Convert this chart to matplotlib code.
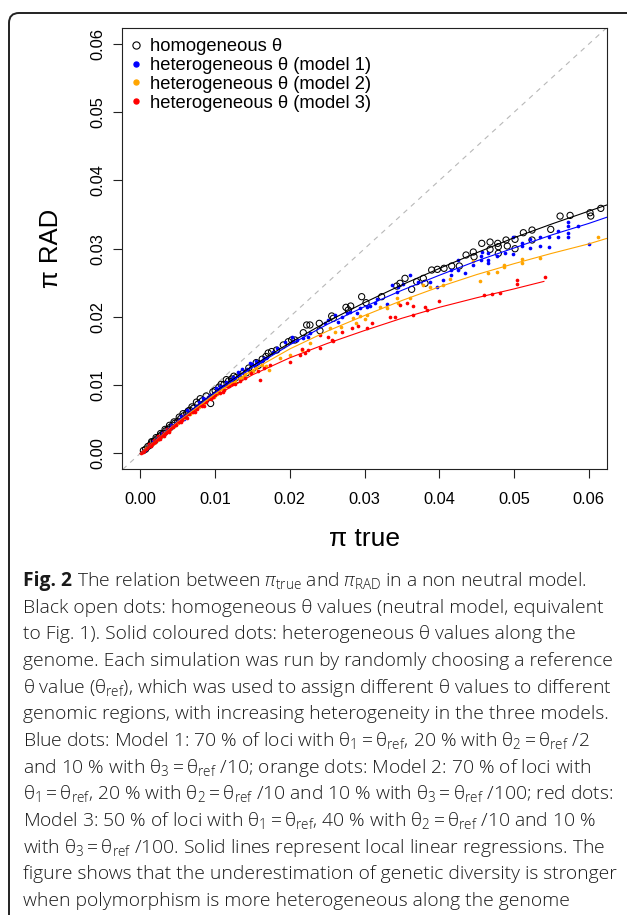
import numpy as np
import matplotlib
matplotlib.use("Agg")
import matplotlib.pyplot as plt
from matplotlib.patches import FancyBboxPatch
from matplotlib.lines import Line2D

plt.rcParams['font.family'] = ['Liberation Sans', 'DejaVu Sans']
plt.rcParams['mathtext.fontset'] = 'custom'
plt.rcParams['mathtext.rm'] = 'Open Sans:light'
plt.rcParams['mathtext.it'] = 'Open Sans:italic:light'
plt.rcParams['mathtext.bf'] = 'Open Sans:bold'

# ---------------- data ----------------
# homogeneous theta (black open circles)
homo_x = [0.0004, 0.0007, 0.0010, 0.0013, 0.0016, 0.0019, 0.0022, 0.0025, 0.0028, 0.0031,
          0.0034, 0.0037, 0.0040, 0.0043, 0.0046, 0.0050, 0.0054, 0.0058, 0.0062, 0.0066,
          0.0071, 0.0077, 0.0083, 0.0094, 0.0100, 0.0105, 0.0112, 0.0118, 0.0122, 0.0128,
          0.0131, 0.0135, 0.0142, 0.0150, 0.0158, 0.0163, 0.0168, 0.0171,
          0.0015, 0.0021, 0.0027, 0.0033, 0.0039, 0.0045, 0.0052, 0.0057, 0.0064, 0.0069,
          0.0075, 0.0080, 0.0088, 0.0097, 0.0108, 0.0115, 0.0125, 0.0137, 0.0145, 0.0155,
          0.01756, 0.01823, 0.01912, 0.01979, 0.02024, 0.02068, 0.0218, 0.02225, 0.02269,
          0.02394, 0.02403, 0.0256, 0.02581, 0.02751, 0.02782, 0.02814, 0.02961, 0.03019,
          0.03229, 0.0343, 0.03474, 0.03541, 0.0363, 0.03697, 0.03786, 0.03809,
          0.03898, 0.03974, 0.04063, 0.04166, 0.04268, 0.04358, 0.04455, 0.04465, 0.04568,
          0.04679, 0.04679, 0.04782, 0.0479, 0.0479, 0.04893, 0.0491, 0.05013, 0.05013,
          0.05125, 0.05241, 0.05241, 0.05491, 0.05616, 0.0575, 0.06017, 0.06027, 0.06161]
homo_y = [0.0004, 0.0006, 0.0010, 0.0012, 0.0016, 0.0018, 0.0021, 0.0024, 0.0027, 0.0029,
          0.0033, 0.0035, 0.0038, 0.0041, 0.0044, 0.0047, 0.0051, 0.0055, 0.0059, 0.0063,
          0.0066, 0.0072, 0.0077, 0.0073, 0.0092, 0.0097, 0.0101, 0.0106, 0.0109, 0.0111,
          0.0108, 0.0113, 0.0118, 0.0124, 0.0129, 0.0138, 0.0142, 0.0147,
          0.0017, 0.0023, 0.0029, 0.0035, 0.0041, 0.0046, 0.0053, 0.0058, 0.0062, 0.0068,
          0.0075, 0.0080, 0.0084, 0.0090, 0.0101, 0.0108, 0.0113, 0.0117, 0.0125, 0.0133,
          0.01491, 0.01514, 0.01588, 0.01636, 0.01661, 0.01661, 0.01768, 0.01881, 0.01881,
          0.01905, 0.01797, 0.02013, 0.01979, 0.0214, 0.02101, 0.02159, 0.02296, 0.02208,
          0.02296, 0.02452, 0.02492, 0.02565, 0.02404, 0.02516, 0.02565, 0.02492,
          0.02687, 0.02697, 0.02712, 0.02746, 0.02746, 0.02907, 0.02951, 0.02882, 0.03078,
          0.03097, 0.0299, 0.03078, 0.03029, 0.02932, 0.03127, 0.03039, 0.03137, 0.02999,
          0.03234, 0.03273, 0.03127, 0.03283, 0.03478, 0.03488, 0.03527, 0.03478, 0.03591]

# heterogeneous theta, model 1 (blue)
m1_x = [0.0003, 0.0006, 0.0009, 0.0012, 0.0015, 0.0018, 0.0021, 0.0024, 0.0027, 0.0030,
        0.0033, 0.0036, 0.0039, 0.0042, 0.0045, 0.0048, 0.0052, 0.0056, 0.0060, 0.0065,
        0.0070, 0.0075, 0.0081, 0.0087, 0.0093, 0.0098, 0.0104, 0.0110, 0.0116, 0.0121,
        0.0127, 0.0132, 0.0138, 0.0143, 0.0147, 0.0153, 0.0158, 0.0163, 0.0168,
        0.0017, 0.0023, 0.0029, 0.0035, 0.0041, 0.0047, 0.0054, 0.0058, 0.0063, 0.0068,
        0.0078, 0.0084, 0.0090, 0.0101, 0.0107, 0.0114, 0.0124, 0.0130, 0.0136, 0.0150,
        0.0155, 0.0165,
        0.0177, 0.01823, 0.01934, 0.02024, 0.02037, 0.02091, 0.0218, 0.02246, 0.02269,
        0.0247, 0.02514, 0.02604, 0.02648, 0.02693, 0.0276, 0.02805, 0.02894, 0.02938,
        0.03028, 0.03072, 0.03139, 0.03162, 0.03296, 0.03363, 0.0343, 0.03451, 0.03518,
        0.03608, 0.03719,
        0.03876, 0.03965, 0.04054, 0.04153, 0.04153, 0.04255, 0.04255, 0.04344, 0.04447,
        0.04554, 0.04554, 0.04568, 0.04656, 0.04656, 0.04656, 0.04768, 0.0488, 0.0499,
        0.0499, 0.05103, 0.05103, 0.05214, 0.05214, 0.05348, 0.05348, 0.05473, 0.05473,
        0.05593, 0.05593, 0.05727, 0.05727, 0.05727, 0.05727, 0.05861, 0.06]
m1_y = [0.0003, 0.0005, 0.0008, 0.0011, 0.0014, 0.0016, 0.0020, 0.0022, 0.0025, 0.0028,
        0.0030, 0.0034, 0.0036, 0.0039, 0.0042, 0.0045, 0.0049, 0.0052, 0.0056, 0.0061,
        0.0065, 0.0070, 0.0074, 0.0079, 0.0085, 0.0088, 0.0094, 0.0099, 0.0103, 0.0108,
        0.0111, 0.0115, 0.0118, 0.0123, 0.0133, 0.0128, 0.0133, 0.0136, 0.0140,
        0.0018, 0.0024, 0.0030, 0.0036, 0.0042, 0.0043, 0.0055, 0.0050, 0.0063, 0.0062,
        0.0075, 0.0081, 0.0083, 0.0095, 0.0099, 0.0105, 0.0112, 0.0119, 0.0124, 0.0131,
        0.0136, 0.0140,
        0.01491, 0.01539, 0.01636, 0.01709, 0.01651, 0.01661, 0.01686, 0.01709, 0.01759,
        0.01905, 0.01954, 0.02028, 0.01929, 0.02003, 0.02052, 0.02076, 0.02052, 0.02125,
        0.0214, 0.02159, 0.02199, 0.02257, 0.02188, 0.02467, 0.02369, 0.02433, 0.02482,
        0.02614, 0.02516,
        0.02516, 0.02442, 0.0254, 0.02614, 0.02687, 0.02834, 0.02687, 0.02638, 0.0276,
        0.02834, 0.02892, 0.02955, 0.02932, 0.02834, 0.02785, 0.02892, 0.0294, 0.03175,
        0.02921, 0.03087, 0.03039, 0.03137, 0.03005, 0.03175, 0.03039, 0.03166, 0.0302,
        0.03263, 0.03166, 0.03395, 0.03332, 0.03234, 0.03166, 0.03332, 0.03068]

# heterogeneous theta, model 2 (orange)
m2_x = [0.0004, 0.0008, 0.0012, 0.0016, 0.0020, 0.0024, 0.0028, 0.0032, 0.0036, 0.0040,
        0.0045, 0.0050, 0.0055, 0.0060, 0.0066, 0.0072, 0.0078, 0.0085, 0.0092, 0.0098,
        0.0105, 0.0112, 0.0118, 0.0126, 0.0133, 0.0140, 0.0147, 0.0155, 0.0163, 0.0172,
        0.0014, 0.0018, 0.0022, 0.0026, 0.0030, 0.0034, 0.0038, 0.0043, 0.0048, 0.0053,
        0.0058, 0.0063, 0.0069, 0.0075, 0.0082, 0.0088, 0.0095, 0.0102, 0.0109, 0.0122,
        0.0137, 0.0151, 0.0168,
        0.01867, 0.02001, 0.02158, 0.02269, 0.02537, 0.02604, 0.0268, 0.02849, 0.02885,
        0.02938, 0.03005, 0.03028, 0.03206, 0.03296, 0.03451, 0.0343, 0.03608, 0.03786,
        0.03876, 0.04045, 0.04143, 0.04447, 0.04545, 0.04656, 0.04768, 0.04866, 0.04866,
        0.05103, 0.05103, 0.05348, 0.06129]
m2_y = [0.0003, 0.0007, 0.0010, 0.0014, 0.0018, 0.0021, 0.0025, 0.0028, 0.0032, 0.0035,
        0.0040, 0.0044, 0.0049, 0.0053, 0.0058, 0.0062, 0.0068, 0.0073, 0.0081, 0.0083,
        0.0090, 0.0095, 0.0101, 0.0104, 0.0110, 0.0116, 0.0118, 0.0125, 0.0130, 0.0122,
        0.0013, 0.0015, 0.0020, 0.0024, 0.0026, 0.0031, 0.0033, 0.0038, 0.0043, 0.0047,
        0.0051, 0.0057, 0.0061, 0.0067, 0.0071, 0.0078, 0.0084, 0.0087, 0.0094, 0.0103,
        0.0112, 0.0121, 0.0128,
        0.01393, 0.01441, 0.01514, 0.01622, 0.01832, 0.01783, 0.01847, 0.01979, 0.01905,
        0.02013, 0.01964, 0.02028, 0.02149, 0.02125, 0.02199, 0.02272, 0.02272, 0.02467,
        0.02442, 0.02467, 0.02551, 0.02823, 0.0253, 0.02647, 0.02662, 0.0276, 0.02735,
        0.02843, 0.02785, 0.02863, 0.03175]

# heterogeneous theta, model 3 (red)
m3_x = [0.0001, 0.0003, 0.0005, 0.0007, 0.0009, 0.0011, 0.0013, 0.0015, 0.0017, 0.0019,
        0.0021, 0.0023, 0.0025, 0.0028, 0.0031, 0.0034, 0.0037, 0.0040, 0.0044, 0.0048,
        0.0052, 0.0056, 0.0060, 0.0065, 0.0070, 0.0076, 0.0082, 0.0088, 0.0094, 0.0100,
        0.0106, 0.0112, 0.0119, 0.0126, 0.0133, 0.0140, 0.0160, 0.0148, 0.0157, 0.0166,
        0.0012, 0.0014, 0.0018, 0.0020, 0.0024, 0.0026, 0.0030, 0.0032, 0.0036, 0.0038,
        0.0042, 0.0046, 0.0050, 0.0054, 0.0058, 0.0062, 0.0068, 0.0073, 0.0079, 0.0085,
        0.0091, 0.0097, 0.0104, 0.0110, 0.0116, 0.0123,
        0.01734, 0.02001, 0.02135, 0.02158, 0.02202, 0.02246, 0.02403, 0.02403, 0.02514,
        0.0256, 0.02581, 0.02693, 0.02827, 0.02916, 0.03028, 0.03095, 0.0334, 0.03407,
        0.03474, 0.03564, 0.03652, 0.03652, 0.03809, 0.03831, 0.0400,
        0.04598, 0.04706, 0.04813, 0.05045, 0.05045, 0.05411]
m3_y = [0.0001, 0.0002, 0.0004, 0.0006, 0.0008, 0.0010, 0.0012, 0.0013, 0.0015, 0.0017,
        0.0019, 0.0021, 0.0022, 0.0025, 0.0028, 0.0030, 0.0033, 0.0036, 0.0039, 0.0042,
        0.0046, 0.0049, 0.0053, 0.0057, 0.0061, 0.0065, 0.0070, 0.0075, 0.0080, 0.0085,
        0.0089, 0.0093, 0.0098, 0.0102, 0.0106, 0.0111, 0.0108, 0.0117, 0.0121, 0.0125,
        0.0013, 0.0011, 0.0019, 0.0016, 0.0025, 0.0021, 0.0030, 0.0026, 0.0035, 0.0031,
        0.0040, 0.0041, 0.0047, 0.0046, 0.0054, 0.0052, 0.0062, 0.0060, 0.0071, 0.0070,
        0.0081, 0.0083, 0.0091, 0.0090, 0.0099, 0.0101,
        0.01294, 0.01343, 0.01441, 0.01524, 0.01466, 0.01514, 0.01539, 0.01734, 0.01709,
        0.01661, 0.01651, 0.01783, 0.01832, 0.01866, 0.01832, 0.01905, 0.02003, 0.02003,
        0.02174, 0.02199, 0.02159, 0.02028, 0.02149, 0.02101, 0.0224,
        0.0232, 0.02335, 0.02354, 0.0254, 0.02477, 0.02589]

# local linear regression curves
fit_x = [0.0, 0.005, 0.01, 0.015, 0.02, 0.025, 0.03, 0.035, 0.04, 0.045, 0.05, 0.055, 0.06, 0.0624]
fit_homo = [0.0, 0.0047, 0.0090, 0.0128, 0.0162, 0.0193, 0.0221, 0.0247, 0.0271, 0.0294, 0.0316, 0.0336, 0.0355, 0.0364]
fit_m1 = [0.0, 0.0047, 0.0089, 0.0126, 0.0159, 0.0189, 0.0215, 0.0239, 0.0261, 0.0282, 0.0301, 0.0320, 0.0337, 0.0346]
fit_m2 = [0.0, 0.0046, 0.0087, 0.0122, 0.0153, 0.0179, 0.0202, 0.0224, 0.0244, 0.0262, 0.0278, 0.0293, 0.0307, 0.0315]
fit_m3_x = [0.0, 0.005, 0.01, 0.015, 0.02, 0.025, 0.03, 0.035, 0.04, 0.045, 0.05, 0.054]
fit_m3 = [0.0, 0.0045, 0.0084, 0.0115, 0.0140, 0.0161, 0.0180, 0.0198, 0.0214, 0.0228, 0.0241, 0.0252]

ticks = [0.00, 0.01, 0.02, 0.03, 0.04, 0.05, 0.06]
tick_labels = ["0.00", "0.01", "0.02", "0.03", "0.04", "0.05", "0.06"]
legend_labels = ["homogeneous θ", "heterogeneous θ (model 1)",
                 "heterogeneous θ (model 2)", "heterogeneous θ (model 3)"]
BLUE, ORANGE, RED = "#0000FF", "#FFA500", "#FF0000"

caption_head = "Fig. 2"
caption_lines = [
    r"The relation between $\pi_{\mathrm{true}}$ and $\pi_{\mathrm{RAD}}$ in a non neutral model.",
    r"Black open dots: homogeneous θ values (neutral model, equivalent",
    r"to Fig. 1). Solid coloured dots: heterogeneous θ values along the",
    r"genome. Each simulation was run by randomly choosing a reference",
    r"θ value ($\mathrm{\theta}_{\mathrm{ref}}$), which was used to assign different θ values to different",
    r"genomic regions, with increasing heterogeneity in the three models.",
    r"Blue dots: Model 1: 70 % of loci with $\mathrm{\theta}_1=\mathrm{\theta}_{\mathrm{ref}}$, 20 % with $\mathrm{\theta}_2=\mathrm{\theta}_{\mathrm{ref}}$ /2",
    r"and 10 % with $\mathrm{\theta}_3=\mathrm{\theta}_{\mathrm{ref}}$ /10; orange dots: Model 2: 70 % of loci with",
    r"$\mathrm{\theta}_1=\mathrm{\theta}_{\mathrm{ref}}$, 20 % with $\mathrm{\theta}_2=\mathrm{\theta}_{\mathrm{ref}}$ /10 and 10 % with $\mathrm{\theta}_3=\mathrm{\theta}_{\mathrm{ref}}$ /100; red dots:",
    r"Model 3: 50 % of loci with $\mathrm{\theta}_1=\mathrm{\theta}_{\mathrm{ref}}$, 40 % with $\mathrm{\theta}_2=\mathrm{\theta}_{\mathrm{ref}}$ /10 and 10 %",
    r"with $\mathrm{\theta}_3=\mathrm{\theta}_{\mathrm{ref}}$ /100. Solid lines represent local linear regressions. The",
    r"figure shows that the underestimation of genetic diversity is stronger",
    r"when polymorphism is more heterogeneous along the genome",
]

# ---------------- figure ----------------
W, H = 627, 915
fig = plt.figure(figsize=(W / 100, H / 100), dpi=100)

# rounded frame
frame = FancyBboxPatch((9 / 100, -1.0), 7.0, (H - 13) / 100 + 1.0,
                       boxstyle="round,pad=0,rounding_size=0.1",
                       transform=fig.dpi_scale_trans, fill=False,
                       ec="#222222", lw=1.4, clip_on=False)
fig.patches.append(frame)

L, R, T, B = 121.7, 606.7, 27.7, 469.3
ax = fig.add_axes([L / W, 1 - B / H, (R - L) / W, (B - T) / H])

ax.axline((0, 0), slope=1, color="#B8B8B8", lw=0.8, dashes=(4.5, 4.5), zorder=1)

ax.scatter(homo_x, homo_y, s=20, facecolors="none", edgecolors="black", linewidths=0.75, zorder=3)
ax.scatter(m1_x, m1_y, s=7, color=BLUE, linewidths=0, zorder=4)
ax.scatter(m2_x, m2_y, s=7, color=ORANGE, linewidths=0, zorder=5)
ax.scatter(m3_x, m3_y, s=7, color=RED, linewidths=0, zorder=6)

ax.plot(fit_x, fit_homo, color="black", lw=0.8, zorder=7)
ax.plot(fit_x, fit_m1, color=BLUE, lw=0.8, zorder=7)
ax.plot(fit_x, fit_m2, color=ORANGE, lw=0.8, zorder=7)
ax.plot(fit_m3_x, fit_m3, color=RED, lw=0.8, zorder=7)

ax.set_xlim(-0.0025, 0.0624)
ax.set_ylim(-0.00235, 0.0624)
ax.set_xticks(ticks)
ax.set_xticklabels(tick_labels)
ax.set_yticks(ticks)
ax.set_yticklabels(tick_labels, rotation=90, va="center")
ax.tick_params(direction="out", length=6.5, width=0.8, labelsize=11.8, color="#222222")
ax.tick_params(axis="x", pad=10)
ax.tick_params(axis="y", pad=5)
for s in ax.spines.values():
    s.set_linewidth(0.8)
    s.set_color("#222222")

ax.set_xlabel("π true", fontsize=19, va="center")
ax.xaxis.set_label_coords(0.5, (B - 539) / (B - T))
ax.set_ylabel("π RAD", fontsize=18.5, va="center")
ax.yaxis.set_label_coords((51 - L) / (R - L), 0.5)

handles = [
    Line2D([], [], ls="none", marker="o", mfc="none", mec="black", mew=0.8, ms=5.2),
    Line2D([], [], ls="none", marker="o", color=BLUE, ms=3.6),
    Line2D([], [], ls="none", marker="o", color=ORANGE, ms=3.6),
    Line2D([], [], ls="none", marker="o", color=RED, ms=3.6),
]
ax.legend(handles, legend_labels, loc="upper left",
          bbox_to_anchor=((128.8 - L) / (R - L), (B - 38.1) / (B - T)),
          frameon=False, fontsize=13.2, handlelength=0.8, handletextpad=0.35,
          labelspacing=0.1, borderpad=0, borderaxespad=0)

# caption
CAP_FS = 13.9
cap_x0 = 23
renderer = fig.canvas.get_renderer()
for i, line in enumerate(caption_lines):
    y = 1 - (586 + 26.67 * i) / H
    x = cap_x0 / W
    if i == 0:
        head = fig.text(x, y, caption_head, fontsize=CAP_FS,
                        family=["Open Sans", "DejaVu Sans"], fontweight="bold",
                        ha="left", va="baseline", color="#1a1a1a")
        bb = head.get_window_extent(renderer)
        x = (bb.x1 + 0.27 * CAP_FS * 100 / 72) / W
    fig.text(x, y, line, fontsize=CAP_FS,
             family=["Open Sans", "DejaVu Sans"], fontweight="light",
             ha="left", va="baseline", color="#1a1a1a")

fig.savefig("out.png", dpi=100)
